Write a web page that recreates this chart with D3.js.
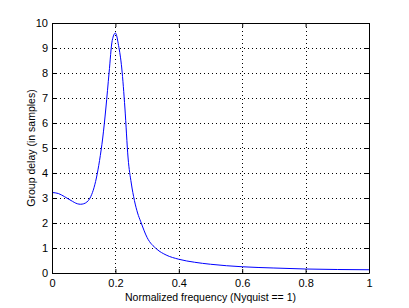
<!DOCTYPE html>
<html>
<head>
<meta charset="utf-8">
<script src="https://cdn.jsdelivr.net/npm/d3@7"></script>
<style>
  body { margin: 0; background: #fff; }
  text { font-family: "Liberation Sans", Arial, sans-serif; }
</style>
</head>
<body>
<div id="canvas"></div>
<script>
const w = 409;
const h = 308;
const margin = { top: 23, bottom: 35, left: 52, right: 40 };

// normalized frequency and group delay
const freq = [0, 0.02, 0.04, 0.06, 0.08, 0.09, 0.10, 0.12, 0.14, 0.15, 0.16, 0.17, 0.18, 0.19, 0.20,
  0.21, 0.22, 0.23, 0.24, 0.25, 0.26, 0.27, 0.28, 0.30, 0.33, 0.36, 0.40, 0.45, 0.50, 0.60, 0.70, 0.80, 0.90, 1.0];
const delay = [3.22, 3.18, 3.05, 2.9, 2.77, 2.75, 2.77, 3.0, 3.8, 4.5, 5.4, 6.6, 8.0, 9.3, 9.6,
  9.1, 8.2, 6.6, 4.6, 3.6, 2.9, 2.4, 2.05, 1.42, 0.96, 0.72, 0.55, 0.43, 0.35, 0.25, 0.2, 0.16, 0.14, 0.13];
const xTicks = [0, 0.2, 0.4, 0.6, 0.8, 1];
const yTicks = [0, 1, 2, 3, 4, 5, 6, 7, 8, 9, 10];

const width = w - margin.left - margin.right;
const height = h - margin.top - margin.bottom;

const svg = d3.select("#canvas").append("svg")
  .attr("width", w)
  .attr("height", h);

const g = svg.append("g")
  .attr("transform", `translate(${margin.left},${margin.top})`);

const x = d3.scaleLinear().domain([0, 1]).range([0, width]);
const y = d3.scaleLinear().domain([0, 10]).range([height, 0]);

// dotted grid
g.selectAll(".vgrid").data(xTicks.slice(1, -1)).enter().append("line")
  .attr("x1", d => Math.round(x(d)) + 0.5).attr("x2", d => Math.round(x(d)) + 0.5)
  .attr("y1", 0).attr("y2", height)
  .attr("stroke", "#000").attr("stroke-dasharray", "1,3");
g.selectAll(".hgrid").data(yTicks.slice(1, -1)).enter().append("line")
  .attr("y1", d => Math.round(y(d)) + 0.5).attr("y2", d => Math.round(y(d)) + 0.5)
  .attr("x1", 0).attr("x2", width)
  .attr("stroke", "#000").attr("stroke-dasharray", "1,3");

// curve
const line = d3.line()
  .x((d, i) => x(freq[i]))
  .y(d => y(d))
  .curve(d3.curveMonotoneX);
g.append("path")
  .datum(delay)
  .attr("d", line)
  .attr("fill", "none")
  .attr("stroke", "#0000ff")
  .attr("stroke-width", 1);

// axes with inward ticks, box
const xAxis = d3.axisBottom(x).tickValues(xTicks).tickSizeInner(-4).tickSizeOuter(0)
  .tickPadding(6).tickFormat(d3.format("~g"));
const yAxis = d3.axisLeft(y).tickValues(yTicks).tickSizeInner(-4).tickSizeOuter(0)
  .tickPadding(4).tickFormat(d3.format("~g"));

const gx = g.append("g").attr("transform", `translate(0,${height})`).call(xAxis);
const gy = g.append("g").call(yAxis);
g.append("g").call(d3.axisTop(x).tickValues(xTicks).tickSizeInner(-4).tickSizeOuter(0).tickFormat(""));
g.append("g").attr("transform", `translate(${width},0)`)
  .call(d3.axisRight(y).tickValues(yTicks).tickSizeInner(-4).tickSizeOuter(0).tickFormat(""));

svg.selectAll(".domain").attr("stroke", "#000");
svg.selectAll(".tick line").attr("stroke", "#000");
svg.selectAll(".tick text").attr("font-size", 11).attr("fill", "#000")
  .attr("font-family", "Liberation Sans, Arial, sans-serif");
gx.selectAll(".tick text").attr("dy", "0.71em");

// labels
svg.append("text")
  .attr("x", margin.left + width / 2)
  .attr("y", 301)
  .attr("text-anchor", "middle")
  .attr("font-size", 10.5)
  .text("Normalized frequency (Nyquist == 1)");

svg.append("text")
  .attr("transform", `translate(35,${margin.top + height / 2}) rotate(-90)`)
  .attr("text-anchor", "middle")
  .attr("font-size", 10.5)
  .text("Group delay (in samples)");
</script>
</body>
</html>
